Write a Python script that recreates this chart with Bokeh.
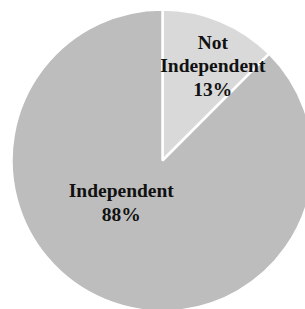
import math
from bokeh.plotting import figure
from bokeh.models import Range1d, ColumnDataSource
from bokeh.core.properties import value
from bokeh.embed import file_html
from bokeh.resources import INLINE

categories = ["Not\nIndependent", "Independent"]
values = [12.5, 87.5]
colors = ["#D9D9D9", "#BDBDBD"]

# label placement (style): angle in degrees from +x, distance as fraction of radius
label_angle = [62.0, 225.6]
label_dist = [0.71, 0.39]

R = 151
total = sum(values)
starts, ends = [], []
cum = 0.0
for v in values:
    starts.append(math.pi / 2 - cum / total * 2 * math.pi)
    cum += v
    ends.append(math.pi / 2 - cum / total * 2 * math.pi)

labels = [f"{c}\n{int(v / total * 100 + 0.5)}%" for c, v in zip(categories, values)]
lx = [R * d * math.cos(math.radians(a)) for a, d in zip(label_angle, label_dist)]
ly = [R * d * math.sin(math.radians(a)) for a, d in zip(label_angle, label_dist)]

src = ColumnDataSource(dict(start=starts, end=ends, color=colors))
lsrc = ColumnDataSource(dict(x=lx, y=ly, text=labels))

W, H = 305, 309
CX, CY = 162, 160
p = figure(width=W, height=H, output_backend="svg", toolbar_location=None,
           x_range=Range1d(-CX, W - CX), y_range=Range1d(-(H - CY), CY),
           min_border=0, outline_line_color=None)
p.axis.visible = False
p.grid.visible = False
p.background_fill_color = "white"
p.border_fill_color = "white"

p.wedge(x=0, y=0, radius=R, start_angle="start", end_angle="end", direction="clock",
        fill_color="color", line_color="white", line_width=2.5, source=src)
p.text(x="x", y="y", text="text", source=lsrc, text_align="center", text_baseline="middle",
       text_font=value("Liberation Serif"), text_font_style="bold", text_font_size="19.5px",
       text_color="#111111", text_line_height=1.13)

open("out.html", "w").write(file_html(p, INLINE))
